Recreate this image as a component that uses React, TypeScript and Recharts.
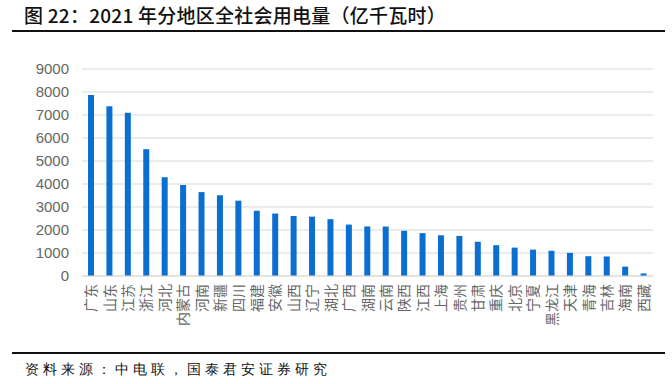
import React from 'react';
import { BarChart, Bar, XAxis, YAxis, CartesianGrid } from 'recharts';

const regions = ['广东', '山东', '江苏', '浙江', '河北', '内蒙古', '河南', '新疆', '四川', '福建', '安徽', '山西', '辽宁', '湖北', '广西', '湖南', '云南', '陕西', '江西', '上海', '贵州', '甘肃', '重庆', '北京', '宁夏', '黑龙江', '天津', '青海', '吉林', '海南', '西藏'];
const consumption = [7866, 7383, 7101, 5514, 4294, 3957, 3647, 3512, 3275, 2837, 2715, 2608, 2581, 2472, 2236, 2155, 2151, 1967, 1863, 1771, 1743, 1489, 1341, 1233, 1146, 1098, 1005, 861, 850, 408, 111];
const yTicks = [0, 1000, 2000, 3000, 4000, 5000, 6000, 7000, 8000, 9000];

const titleText = '图 22：2021 年分地区全社会用电量（亿千瓦时）';
const sourceText = '资料来源：中电联，国泰君安证券研究';

const data = regions.map((name, i) => ({ name, value: consumption[i] }));

const tickFont = '"Liberation Sans", Arial, "Noto Sans CJK SC", sans-serif';

const XTick = (props: any) => {
  const { x, y, payload } = props;
  return (
    <text
      x={x}
      y={y}
      dy="0.36em"
      textAnchor="end"
      transform={`rotate(-90, ${x}, ${y})`}
      fontSize={14}
      fill="#666666"
      fontFamily='"Noto Sans CJK SC", sans-serif'
    >
      {payload.value}
    </text>
  );
};

export default function App() {
  return (
    <div style={{ position: 'absolute', left: 0, top: 0, width: 672, height: 384, background: '#fff', overflow: 'hidden' }}>
      <div
        style={{
          position: 'absolute',
          left: 24,
          top: 3,
          fontSize: 19,
          lineHeight: '24px',
          fontWeight: 500,
          letterSpacing: 0.25,
          color: '#111',
          fontFamily: '"Noto Sans CJK SC", sans-serif',
          whiteSpace: 'nowrap',
        }}
      >
        {titleText}
      </div>
      <div style={{ position: 'absolute', left: 12, top: 30, width: 653, height: 2, background: '#111' }} />
      <div style={{ position: 'absolute', left: 0, top: 0 }}>
        <BarChart width={672} height={384} data={data} margin={{ top: 69, right: 19, bottom: 58, left: 0 }}>
          <CartesianGrid vertical={false} stroke="#d9d9d9" strokeWidth={1.2} />
          <XAxis
            dataKey="name"
            interval={0}
            height={50}
            tickLine={false}
            axisLine={{ stroke: '#d9d9d9', strokeWidth: 1.2 }}
            tick={<XTick />}
          />
          <YAxis
            width={82}
            domain={[0, 9000]}
            ticks={yTicks}
            interval={0}
            axisLine={false}
            tickLine={false}
            tickMargin={7}
            tick={{ fontSize: 15, fill: '#666666', fontFamily: tickFont }}
          />
          <Bar dataKey="value" fill="#0B6FD1" barSize={6} isAnimationActive={false} />
        </BarChart>
      </div>
      <div style={{ position: 'absolute', left: 12, top: 352, width: 653, height: 2, background: '#111' }} />
      <div
        style={{
          position: 'absolute',
          left: 25,
          top: 360,
          fontSize: 14,
          lineHeight: '20px',
          letterSpacing: 4,
          color: '#111',
          fontFamily: 'serif',
          whiteSpace: 'nowrap',
        }}
      >
        {sourceText}
      </div>
    </div>
  );
}
